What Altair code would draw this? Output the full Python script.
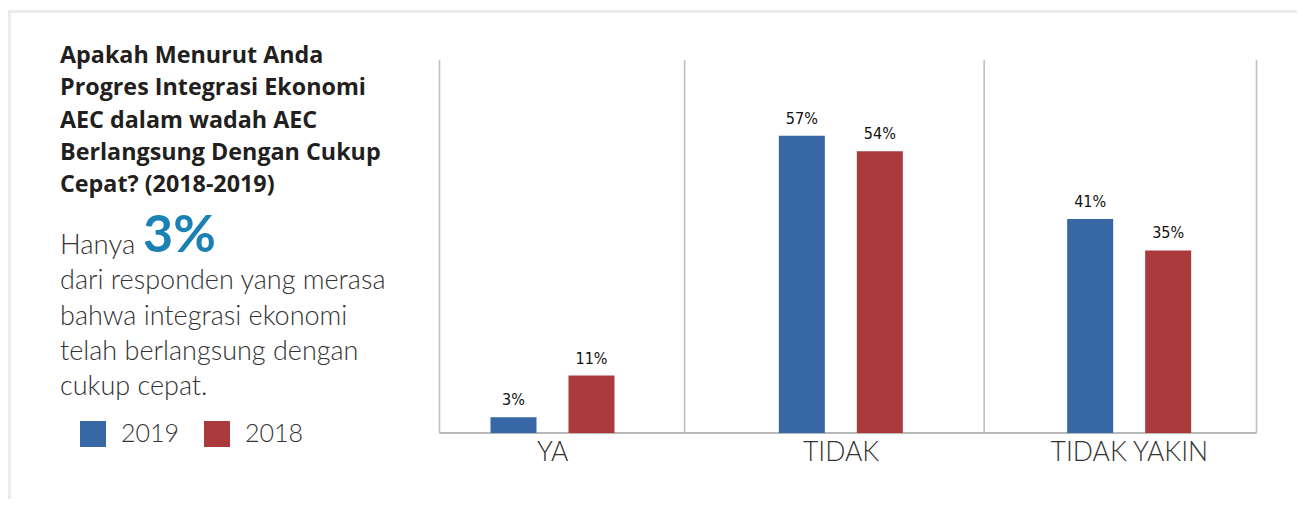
import altair as alt
import pandas as pd

# ---- data ----
categories = ["YA", "TIDAK", "TIDAK YAKIN"]
years = ["2019", "2018"]
values_2019 = [3, 57, 41]
values_2018 = [11, 54, 35]
# category-boundary gridlines, in category units
separator_at = [0, 0.9, 2.0, 3.0]

title_lines = ["Apakah Menurut Anda", "Progres Integrasi Ekonomi", "AEC dalam wadah AEC",
               "Berlangsung Dengan Cukup", "Cepat? (2018-2019)"]
lead_word = "Hanya"
highlight = "3%"
body_lines = ["dari responden yang merasa", "bahwa integrasi ekonomi",
              "telah berlangsung dengan", "cukup cepat."]

BLUE = "#3767a5"
RED = "#aa3a3b"
HILITE = "#1b80b3"
NARROW = "'Liberation Sans Narrow', 'DejaVu Sans Condensed', 'Roboto', sans-serif"

rows = []
for i, c in enumerate(categories):
    rows.append({"kategori": c, "tahun": "2019", "nilai": values_2019[i]})
    rows.append({"kategori": c, "tahun": "2018", "nilai": values_2018[i]})
df = pd.DataFrame(rows)
df["label"] = df["nilai"].astype(str) + "%"

W, H = 817, 373

x_scale = alt.Scale(domain=categories, range=[-31, 834], paddingInner=0, paddingOuter=0)
xo_scale = alt.Scale(domain=years, range=[82, 206], paddingInner=0.41, paddingOuter=0)
y_scale = alt.Scale(domain=[0, 71.5], nice=False)

x_axis = alt.Axis(title=None, labelAngle=0, domain=False, ticks=False, grid=False,
                  labelFont="Lato", labelFontWeight=300, labelFontSize=26.5,
                  labelColor="#333333", labelPadding=6)

bars = alt.Chart(df).mark_bar().encode(
    x=alt.X("kategori:N", scale=x_scale, sort=categories, axis=x_axis),
    xOffset=alt.XOffset("tahun:N", scale=xo_scale, sort=years),
    y=alt.Y("nilai:Q", scale=y_scale, axis=None),
    color=alt.Color("tahun:N", scale=alt.Scale(domain=years, range=[BLUE, RED]),
                    legend=alt.Legend(orient="none", legendX=-359.5, legendY=361,
                                      direction="horizontal", title=None,
                                      symbolType="square", symbolSize=676,
                                      symbolStrokeWidth=0, symbolOpacity=1,
                                      labelFont="Lato", labelFontWeight=300,
                                      labelFontSize=25, labelColor="#333333",
                                      labelOffset=15, columnPadding=24, padding=0)),
)

labels = alt.Chart(df).mark_text(baseline="alphabetic", dy=-12, font=NARROW,
                                 fontSize=16, color="#111111").encode(
    x=alt.X("kategori:N", scale=x_scale, sort=categories, axis=None),
    xOffset=alt.XOffset("tahun:N", scale=xo_scale, sort=years),
    y=alt.Y("nilai:Q", scale=y_scale, axis=None),
    text="label:N",
)

seps = alt.Chart(pd.DataFrame({"pos": separator_at})).mark_rule(
    color="#c0c0c0", strokeWidth=1.6).encode(
    x=alt.X("pos:Q", scale=alt.Scale(domain=[0, 3], nice=False, zero=False), axis=None),
)

baseline = alt.Chart(pd.DataFrame({"v": [0]})).mark_rule(
    color="#b8b8b8", strokeWidth=2).encode(
    y=alt.Y("v:Q", scale=y_scale, axis=None),
)

one = pd.DataFrame({"a": [0]})

frame_top = alt.Chart(one).mark_rule(color="#ebebeb", strokeWidth=3).encode(
    x=alt.value(-431.5), x2=alt.value(858), y=alt.value(-48.5))
frame_left = alt.Chart(one).mark_rule(color="#ebebeb", strokeWidth=3).encode(
    x=alt.value(-430), y=alt.value(-50), y2=alt.value(440))

title_txt = alt.Chart(pd.DataFrame({"t": ["\n".join(title_lines)]})).mark_text(
    align="left", baseline="alphabetic", lineBreak="\n", lineHeight=32.3,
    font="Open Sans", fontWeight="bold", fontSize=23.3, color="#231f20").encode(
    text="t:N", x=alt.value(-379.5), y=alt.value(3))

lead_txt = alt.Chart(pd.DataFrame({"t": [lead_word]})).mark_text(
    align="left", baseline="alphabetic", font="Lato", fontWeight=300,
    fontSize=27.5, color="#333333").encode(
    text="t:N", x=alt.value(-379.5), y=alt.value(194))

hi_txt = alt.Chart(pd.DataFrame({"t": [highlight]})).mark_text(
    align="left", baseline="alphabetic", font="Lato", fontWeight="bold",
    fontSize=52, color=HILITE).encode(
    text="t:N", x=alt.value(-296.5), y=alt.value(192))

body_txt = alt.Chart(pd.DataFrame({"t": ["\n".join(body_lines)]})).mark_text(
    align="left", baseline="alphabetic", lineBreak="\n", lineHeight=35.3,
    font="Lato", fontWeight=300, fontSize=27, color="#333333").encode(
    text="t:N", x=alt.value(-379.5), y=alt.value(229.3))

chart = alt.layer(
    frame_top, frame_left, seps, baseline, bars, labels,
    title_txt, lead_txt, hi_txt, body_txt,
).resolve_scale(x="independent").properties(
    width=W, height=H,
    autosize=alt.AutoSizeParams(type="none"),
    padding={"left": 431.5, "top": 52, "right": 40, "bottom": 66},
    background="white",
).configure_view(stroke=None)

chart.save("out.html", embed_options={"renderer": "svg", "actions": False})
